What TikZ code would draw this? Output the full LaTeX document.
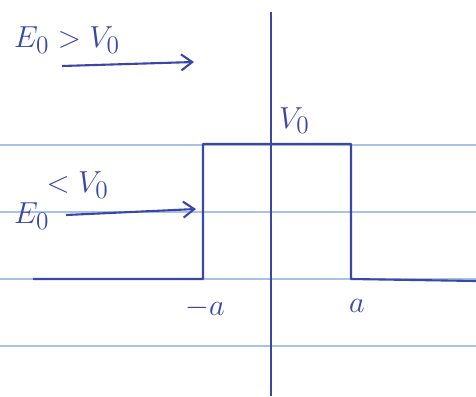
\documentclass[tikz,border=0pt]{standalone}
\usetikzlibrary{arrows.meta,positioning}
\definecolor{penblue}{HTML}{3A47A6}
\definecolor{ruleblue}{HTML}{A9C3E6}

\begin{document}
\begin{tikzpicture}[
  x=0.02cm, y=-0.02cm,
  font=\fontsize{19}{22}\selectfont,
  label/.style={text=penblue, inner sep=1pt},
  ruling/.style={line width=1.1pt, draw=ruleblue},
  pen/.style={line width=1.2pt, draw=penblue, line join=round},
  wave/.style={-{Straight Barb[length=2.2mm, width=3.2mm]}, line width=1.2pt, draw=penblue}
]
\useasboundingbox[fill=white] (0,0) rectangle (476,396);
% paper rulings
\foreach \y in {145,212,279,346}
  \draw[ruling] (0,\y) -- (476,\y);

% potential barrier and axis
\draw[pen] (33,279) -- (203,279) -- (203,144) -- (351,144) -- (351,279) -- (476,281);
\draw[pen] (271,12) -- (271,396);

% labels
\node[label, anchor=west] (ehigh) at (12,40) {$E_0 > V_0$};
\node[label, anchor=west] (elow) at (12,216) {$E_0$};
\node[label, anchor=south west, xshift=-4pt] (vlow) at (elow.north east) {$<V_0$};
\node[label, anchor=south west] (vtop) at (277,136) {$V_0$};
\node[label] (mina) at (205,308) {$-a$};
\node[label] (plusa) at (357,306) {$a$};

% incoming waves
\coordinate (hstart) at (62,66);
\coordinate (hend) at (194,62);
\coordinate (lstart) at (66,215);
\coordinate (lend) at (196,209);
\draw[wave] (hstart) -- (hend);
\draw[wave] (lstart) -- (lend);
\end{tikzpicture}
\end{document}
